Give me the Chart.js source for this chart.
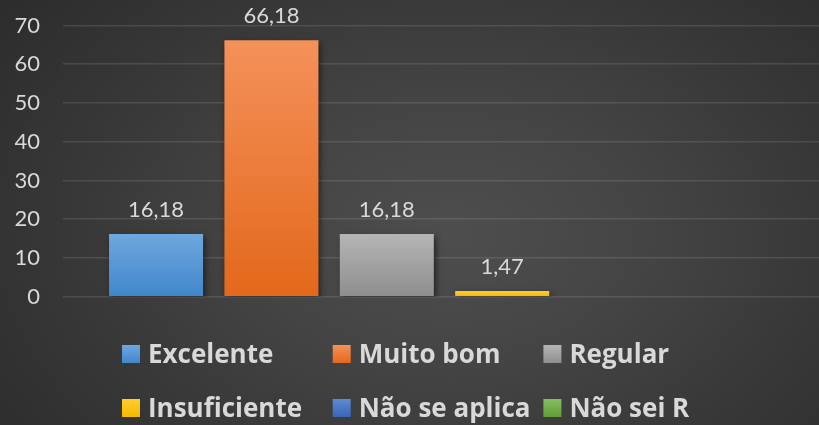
<!DOCTYPE html>
<html lang="pt">
<head>
<meta charset="utf-8">
<script src="https://cdn.jsdelivr.net/npm/chart.js@4.4.1/dist/chart.umd.min.js"></script>
<style>
    html, body {
        margin: 0;
        padding: 0;
        width: 819px;
        height: 425px;
        overflow: hidden;
        background: radial-gradient(ellipse 70% 90% at 55% 55%, #4e4e4e 0%, #444 35%, #363636 70%, #2c2c2c 100%);
    }
    canvas { display: block; }
</style>
</head>
<body>
<canvas id="avaliacaoChart" width="826" height="425"></canvas>
<script>
// Dados
const categorias = ['Excelente', 'Muito bom', 'Regular', 'Insuficiente', 'Não se aplica', 'Não sei R'];
const percentuais = [16.18, 66.18, 16.18, 1.47, 0, 0];
const ticksY = [0, 10, 20, 30, 40, 50, 60, 70];

// Cores (topo / base do degradê)
const corTopo = ['#6fa7de', '#f4915a', '#b5b5b5', '#ffcd2e', '#5f8ad4', '#86bd62'];
const corBase = ['#3f87cb', '#e3681b', '#8e8e8e', '#f5b800', '#3a65b6', '#5f9e35'];

const corTexto = '#d9d9d9';
const fonte = 'Lato, "Open Sans", sans-serif';
const fonteLegenda = '"Open Sans", "Noto Sans", sans-serif';

function degradeBarra(ctx, topo, base, i) {
    const g = ctx.createLinearGradient(0, topo, 0, base);
    g.addColorStop(0, corTopo[i]);
    g.addColorStop(1, corBase[i]);
    return g;
}

// Sombra das barras + rótulos de valor
const sombraBarras = {
    id: 'sombraBarras',
    beforeDatasetsDraw(chart) {
        const ctx = chart.ctx;
        ctx.save();
        ctx.shadowColor = 'rgba(0, 0, 0, 0.55)';
        ctx.shadowBlur = 6;
        ctx.shadowOffsetX = 2;
        ctx.shadowOffsetY = 3;
    },
    afterDatasetsDraw(chart) {
        chart.ctx.restore();
        const ctx = chart.ctx;
        ctx.save();
        ctx.font = '22px ' + fonte;
        ctx.fillStyle = corTexto;
        ctx.textAlign = 'center';
        ctx.textBaseline = 'alphabetic';
        chart.data.datasets.forEach((ds, i) => {
            const v = ds.data[0];
            if (!v) return;
            const barra = chart.getDatasetMeta(i).data[0];
            ctx.fillText(v.toFixed(2).replace('.', ','), barra.x, barra.y - 17);
        });
        ctx.restore();
    }
};

// Legenda em grade (3 colunas)
const legendaGrade = {
    id: 'legendaGrade',
    afterDraw(chart) {
        const ctx = chart.ctx;
        ctx.save();
        ctx.font = 'bold 26px ' + fonteLegenda;
        ctx.textBaseline = 'alphabetic';
        categorias.forEach((nome, i) => {
            const x = 122 + (i % 3) * 210.7;
            const base = 363 + Math.floor(i / 3) * 54;
            ctx.fillStyle = degradeBarra(ctx, base - 18, base, i);
            ctx.fillRect(x, base - 18, 18, 18);
            ctx.fillStyle = corTexto;
            ctx.fillText(nome, x + 26, base);
        });
        ctx.restore();
    }
};

const ctxAval = document.getElementById('avaliacaoChart').getContext('2d');
const avaliacaoChart = new Chart(ctxAval, {
    type: 'bar',
    data: {
        labels: [''],
        datasets: categorias.map((nome, i) => ({
            label: nome,
            data: [percentuais[i]],
            backgroundColor: (c) => {
                const area = c.chart.chartArea;
                if (!area) return corBase[i];
                const y = c.chart.scales.y;
                return degradeBarra(c.chart.ctx, y.getPixelForValue(percentuais[i]), y.getPixelForValue(0), i);
            },
            borderWidth: 0,
            categoryPercentage: 0.9073,
            barPercentage: 0.815
        }))
    },
    options: {
        responsive: false,
        animation: false,
        layout: {
            padding: { top: 25.5, bottom: 128.3, left: 0, right: 0 }
        },
        scales: {
            x: { display: false },
            y: {
                min: 0,
                max: 70,
                afterFit: (scale) => {
                    scale.width = 63;
                    scale.paddingTop = 12;
                    scale.paddingBottom = 12;
                },
                afterBuildTicks: (scale) => { scale.ticks = ticksY.map(v => ({ value: v })); },
                ticks: {
                    color: corTexto,
                    padding: 23,
                    font: { family: fonte, size: 22 }
                },
                grid: {
                    color: 'rgba(255, 255, 255, 0.11)',
                    lineWidth: 1.5,
                    drawTicks: false
                },
                border: { display: false }
            }
        },
        plugins: {
            legend: { display: false },
            tooltip: { enabled: false }
        }
    },
    plugins: [sombraBarras, legendaGrade]
});
</script>
</body>
</html>
